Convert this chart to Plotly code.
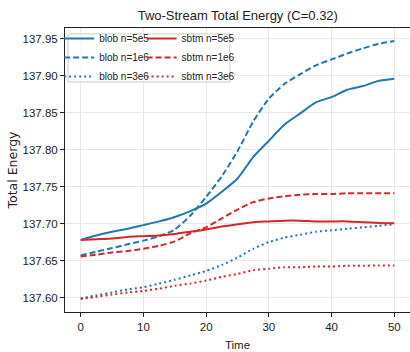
import plotly.graph_objects as go

time = [0, 2.5, 5, 7.5, 10, 12.5, 15, 17.5, 20, 22.5, 25, 27.5, 30, 32.5, 35, 37.5, 40, 42.5, 45, 47.5, 50]

blob_5e5 = [137.678, 137.684, 137.689, 137.693, 137.698, 137.703, 137.709, 137.717, 137.727, 137.743, 137.761,
            137.790, 137.812, 137.834, 137.849, 137.864, 137.871, 137.881, 137.886, 137.893, 137.896]
blob_1e6 = [137.657, 137.662, 137.667, 137.672, 137.677, 137.683, 137.692, 137.711, 137.736, 137.764, 137.798,
            137.838, 137.869, 137.889, 137.902, 137.914, 137.922, 137.930, 137.937, 137.943, 137.947]
blob_3e6 = [137.599, 137.603, 137.607, 137.611, 137.614, 137.619, 137.624, 137.630, 137.636, 137.644, 137.654,
            137.666, 137.675, 137.681, 137.685, 137.689, 137.691, 137.693, 137.695, 137.697, 137.699]
sbtm_5e5 = [137.678, 137.679, 137.680, 137.682, 137.683, 137.684, 137.686, 137.689, 137.692, 137.696, 137.699,
            137.702, 137.703, 137.704, 137.704, 137.703, 137.703, 137.703, 137.702, 137.701, 137.7005]
sbtm_1e6 = [137.6555, 137.658, 137.661, 137.663, 137.666, 137.670, 137.676, 137.687, 137.695, 137.707, 137.719,
            137.729, 137.734, 137.737, 137.739, 137.740, 137.740, 137.741, 137.741, 137.741, 137.741]
sbtm_3e6 = [137.598, 137.601, 137.604, 137.607, 137.609, 137.612, 137.616, 137.619, 137.623, 137.628, 137.632,
            137.637, 137.639, 137.641, 137.641, 137.642, 137.642, 137.643, 137.643, 137.6435, 137.6435]

x_ticks = [0, 10, 20, 30, 40, 50]
y_ticks = [137.60, 137.65, 137.70, 137.75, 137.80, 137.85, 137.90, 137.95]
y_tick_labels = ["137.60", "137.65", "137.70", "137.75", "137.80", "137.85", "137.90", "137.95"]

BLUE = "#1f77b4"
RED = "#d62728"
DASH = "6px,3px"
DOT = "2px,3px"
SANS = "Liberation Sans, Arial, sans-serif"

series = [
    ("blob n=5e5", blob_5e5, BLUE, "solid", "legend"),
    ("blob n=1e6", blob_1e6, BLUE, DASH, "legend"),
    ("blob n=3e6", blob_3e6, BLUE, DOT, "legend"),
    ("sbtm n=5e5", sbtm_5e5, RED, "solid", "legend2"),
    ("sbtm n=1e6", sbtm_1e6, RED, DASH, "legend2"),
    ("sbtm n=3e6", sbtm_3e6, RED, DOT, "legend2"),
]

fig = go.Figure()
for name, vals, color, dash, leg in series:
    fig.add_trace(go.Scatter(
        x=time, y=vals, mode="lines", name=name, legend=leg,
        line=dict(color=color, width=2, dash=dash, shape="spline", smoothing=0.6),
    ))

legend_common = dict(
    bgcolor="rgba(0,0,0,0)", borderwidth=0,
    font=dict(family=SANS, size=10, color="#222"),
    xanchor="left", yanchor="top", itemwidth=30, tracegroupgap=0,
)

fig.update_layout(
    width=410, height=352,
    margin=dict(l=65, r=0, t=28, b=40),
    paper_bgcolor="white", plot_bgcolor="white",
    title=dict(text="Two-Stream Total Energy (C=0.32)", x=0.58, xanchor="center", y=0.957, yanchor="middle",
               font=dict(family=SANS, size=13, color="#222")),
    font=dict(family=SANS, size=11.5, color="#222"),
    legend=dict(x=-0.017, y=1.014, **legend_common),
    legend2=dict(x=0.222, y=1.014, **legend_common),
    xaxis=dict(
        range=[-2.5, 52.5], tickvals=x_ticks, ticks="outside", ticklen=4, tickcolor="#222",
        showline=True, linecolor="#222", linewidth=1, mirror=True,
        showgrid=True, gridcolor="#e8e8e8", gridwidth=1, zeroline=False,
        title=dict(text="Time", font=dict(family=SANS, size=11.5), standoff=9),
        tickfont=dict(family=SANS, size=11.5),
    ),
    yaxis=dict(
        range=[137.5805, 137.9645], tickvals=y_ticks, ticktext=y_tick_labels,
        ticks="outside", ticklen=4, tickcolor="#222", automargin=True,
        showline=True, linecolor="#222", linewidth=1, mirror=True,
        showgrid=True, gridcolor="#e8e8e8", gridwidth=1, zeroline=False,
        title=dict(text="Total Energy", font=dict(family="DejaVu Sans", size=12.5), standoff=2),
        tickfont=dict(family=SANS, size=11.5),
    ),
    shapes=[dict(type="rect", xref="paper", yref="paper", x0=0.009, x1=0.478, y0=0.81, y1=0.979,
                 line=dict(color="#cccccc", width=1), fillcolor="rgba(255,255,255,0.8)", layer="above")],
)

fig.write_html("out.html", config={"displayModeBar": False},
               post_script="document.body.style.margin='0';document.body.style.overflow='hidden';")
